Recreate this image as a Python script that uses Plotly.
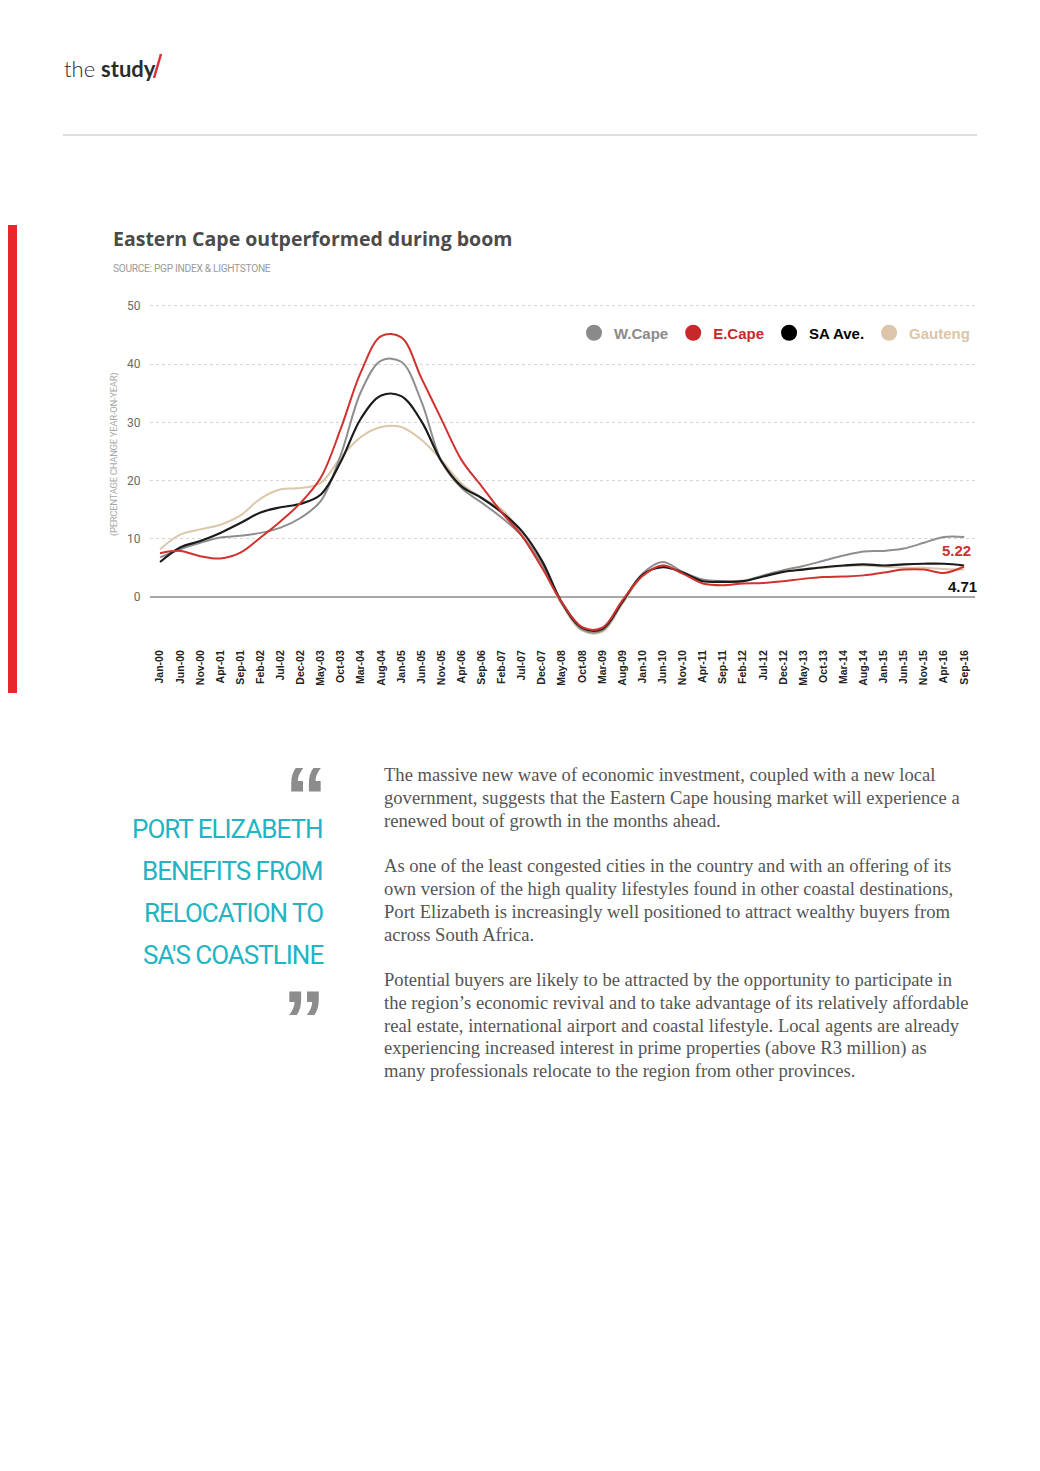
import plotly.graph_objects as go

# ---------------- data ----------------
months = ["Jan-00", "Jun-00", "Nov-00", "Apr-01", "Sep-01", "Feb-02", "Jul-02", "Dec-02",
          "May-03", "Oct-03", "Mar-04", "Aug-04", "Jan-05", "Jun-05", "Nov-05", "Apr-06",
          "Sep-06", "Feb-07", "Jul-07", "Dec-07", "May-08", "Oct-08", "Mar-09", "Aug-09",
          "Jan-10", "Jun-10", "Nov-10", "Apr-11", "Sep-11", "Feb-12", "Jul-12", "Dec-12",
          "May-13", "Oct-13", "Mar-14", "Aug-14", "Jan-15", "Jun-15", "Nov-15", "Apr-16",
          "Sep-16"]

wcape = [6.8, 8.2, 9.3, 10.2, 10.5, 11.0, 11.9, 13.6, 16.5, 24.5, 35.3, 40.6, 40.4, 33.6,
         23.3, 18.7, 16.2, 13.6, 10.5, 5.6, -1.2, -5.6, -5.8, -1.0, 4.0, 6.0, 4.3, 3.0,
         2.7, 2.7, 3.7, 4.6, 5.3, 6.2, 7.1, 7.8, 7.9, 8.3, 9.3, 10.3, 10.3]
ecape = [7.5, 7.9, 7.0, 6.6, 7.6, 10.2, 13.0, 16.2, 20.5, 29.0, 38.7, 44.8, 44.6, 37.6,
         30.5, 23.5, 19.0, 14.5, 10.5, 5.0, -1.0, -5.2, -5.3, -0.6, 3.6, 5.4, 4.0, 2.3,
         2.0, 2.3, 2.4, 2.7, 3.1, 3.4, 3.5, 3.7, 4.2, 4.7, 4.7, 4.1, 5.22]
saave = [6.0, 8.5, 9.6, 11.0, 12.7, 14.5, 15.4, 16.0, 17.6, 23.3, 30.7, 34.6, 34.5, 30.2,
         23.3, 19.0, 17.0, 14.5, 11.3, 6.2, -1.0, -5.3, -5.5, -0.8, 3.8, 5.1, 4.2, 2.7,
         2.6, 2.7, 3.5, 4.3, 4.7, 5.1, 5.4, 5.6, 5.4, 5.6, 5.7, 5.7, 5.4]
gauteng = [8.2, 10.7, 11.6, 12.4, 14.0, 16.9, 18.5, 18.7, 19.6, 24.0, 27.5, 29.2, 29.2, 27.0,
           23.5, 19.5, 17.0, 15.0, 11.0, 5.5, -1.4, -5.8, -6.0, -1.2, 3.6, 5.4, 4.2, 2.8,
           2.7, 2.8, 3.6, 4.4, 4.8, 5.0, 5.3, 5.4, 5.2, 5.0, 5.0, 4.8, 4.71]

series_names = ["W.Cape", "E.Cape", "SA Ave.", "Gauteng"]
end_labels = ["5.22", "4.71"]
y_ticks = [0, 10, 20, 30, 40, 50]

# ---------------- styling ----------------
PAGE_W, PAGE_H = 1040, 1471
OFF = 8  # default body margin of the html page
L, R, T, B = 150, 975, 303, 638

def px(x):
    return (x - L) / (R - L)

def py(y):
    return (B - y) / (B - T)

NARROW = "Roboto, sans-serif"
SERIF = "Liberation Serif, Times New Roman, serif"
ARIAL = "Liberation Sans, Arial, sans-serif"

line_colors = {"W.Cape": "#8e8e8e", "E.Cape": "#d0322f", "SA Ave.": "#1b1b1b", "Gauteng": "#dcc7ab"}
legend_colors = {"W.Cape": "#8a8a8a", "E.Cape": "#c8282b", "SA Ave.": "#000000", "Gauteng": "#dcc5a8"}

fig = go.Figure()

data_map = {"W.Cape": wcape, "E.Cape": ecape, "SA Ave.": saave, "Gauteng": gauteng}
for name in ["Gauteng", "W.Cape", "SA Ave.", "E.Cape"]:
    fig.add_trace(go.Scatter(
        x=months, y=data_map[name], mode="lines", showlegend=False,
        line=dict(color=line_colors[name], width=2.2 if name == "SA Ave." else 2, shape="spline"),
        hoverinfo="skip",
    ))

for name in series_names:
    c = legend_colors[name]
    fig.add_trace(go.Scatter(
        x=[None], y=[None], mode="markers",
        marker=dict(size=16, color=c, symbol="circle"),
        name=f"<span style='color:{c}'>{name}</span>",
    ))

ann = []
# header
ann.append(dict(x=px(62), y=py(69), xref="paper", yref="paper", xanchor="left", yanchor="middle",
                text="the <b>study</b>", showarrow=False,
                font=dict(family="Lato, sans-serif", size=22, color="#2b2b2b", weight=300)))
# chart title & source
ann.append(dict(x=px(111), y=py(238), xref="paper", yref="paper", xanchor="left", yanchor="middle",
                text="<b>Eastern Cape outperformed during boom</b>", showarrow=False,
                font=dict(family="Open Sans, sans-serif", size=19.5, color="#4b4b4b")))
ann.append(dict(x=px(111), y=py(268), xref="paper", yref="paper", xanchor="left", yanchor="middle",
                text="<span style='letter-spacing:-0.3px'>SOURCE: PGP INDEX &amp; LIGHTSTONE</span>",
                showarrow=False, font=dict(family=NARROW, size=10.2, color="#9a9a9a")))
# y-axis title
ann.append(dict(x=px(114), y=py(455), xref="paper", yref="paper", xanchor="center", yanchor="middle",
                text="<span style='letter-spacing:-0.3px'>(PERCENTAGE CHANGE YEAR-ON-YEAR)</span>",
                textangle=-90, showarrow=False,
                font=dict(family=NARROW, size=9.5, color="#a8a8a8")))
# end labels
ann.append(dict(x=px(973), y=py(550), xref="paper", yref="paper", xanchor="right", yanchor="middle",
                text=f"<b>{end_labels[0]}</b>", showarrow=False,
                font=dict(family=ARIAL, size=15, color="#d0312d")))
ann.append(dict(x=px(979), y=py(586), xref="paper", yref="paper", xanchor="right", yanchor="middle",
                text=f"<b>{end_labels[1]}</b>", showarrow=False,
                font=dict(family=ARIAL, size=15, color="#111111")))

# pull quote
quote_lines = ["PORT ELIZABETH", "BENEFITS FROM", "RELOCATION TO", "SA'S COASTLINE"]
for i, t in enumerate(quote_lines):
    ann.append(dict(x=px(325), y=py(829 + 42 * i), xref="paper", yref="paper",
                    xanchor="right", yanchor="middle",
                    text=f"<span style='letter-spacing:-1px'>{t}</span>", showarrow=False,
                    font=dict(family=NARROW, size=26, color="#22b4c2")))
# opening mark: a closing quote turned half a turn (same glyph shape as the opening mark)
ann.append(dict(x=px(329), y=py(812), xref="paper", yref="paper", xanchor="right", yanchor="bottom",
                text="<b>\u201d</b>", textangle=180, showarrow=False,
                font=dict(family=ARIAL, size=84, color="#8c8c8c")))
ann.append(dict(x=px(327), y=py(971), xref="paper", yref="paper", xanchor="right", yanchor="top",
                text="<b>\u201d</b>", showarrow=False,
                font=dict(family=ARIAL, size=84, color="#8c8c8c")))

# body text
body = [
    (774, "The massive new wave of economic investment, coupled with a new local"),
    (797, "government, suggests that the Eastern Cape housing market will experience a"),
    (820, "renewed bout of growth in the months ahead."),
    (865, "As one of the least congested cities in the country and with an offering of its"),
    (888, "own version of the high quality lifestyles found in other coastal destinations,"),
    (911, "Port Elizabeth is increasingly well positioned to attract wealthy buyers from"),
    (934, "across South Africa."),
    (979, "Potential buyers are likely to be attracted by the opportunity to participate in"),
    (1002, "the region\u2019s economic revival and to take advantage of its relatively affordable"),
    (1025, "real estate, international airport and coastal lifestyle. Local agents are already"),
    (1048, "experiencing increased interest in prime properties (above R3 million) as"),
    (1070, "many professionals relocate to the region from other provinces."),
]
for yy, t in body:
    ann.append(dict(x=px(382), y=py(yy), xref="paper", yref="paper", xanchor="left", yanchor="middle",
                    text=t, showarrow=False,
                    font=dict(family=SERIF, size=18.6, color="#555555")))

shapes = [
    dict(type="line", xref="paper", yref="paper", x0=px(63), x1=px(977), y0=py(135), y1=py(135),
         line=dict(color="#d4d4d4", width=1.5)),
    dict(type="rect", xref="paper", yref="paper", x0=px(-10), x1=px(17), y0=py(225), y1=py(693),
         line=dict(width=0), fillcolor="#e8272c"),
    dict(type="line", xref="paper", yref="paper", x0=px(154), x1=px(161), y0=py(78), y1=py(54),
         line=dict(color="#e0303a", width=2.5)),
]

fig.update_layout(
    width=PAGE_W - OFF, height=PAGE_H - OFF,
    margin=dict(l=L - OFF, r=PAGE_W - R, t=T - OFF, b=PAGE_H - B, pad=0),
    paper_bgcolor="white", plot_bgcolor="white",
    annotations=ann, shapes=shapes,
    showlegend=True,
    legend=dict(orientation="h", x=px(975), xanchor="right", y=py(333), yanchor="middle",
                bgcolor="rgba(0,0,0,0)", itemsizing="trace",
                font=dict(family=ARIAL, size=15, weight="bold")),
    xaxis=dict(type="category", range=[-0.5, 40.54], tickangle=-90, showgrid=False,
               showline=False, zeroline=False, ticks="outside", ticklen=7,
               tickcolor="rgba(0,0,0,0)",
               tickfont=dict(family=ARIAL, size=10.5, color="#222222", weight="bold")),
    yaxis=dict(range=[-7.06, 50.5], tickvals=y_ticks, showgrid=True, gridcolor="#d6d6d6",
               griddash="dot", gridwidth=1, zeroline=True, zerolinecolor="#a8a8a8",
               zerolinewidth=2, showline=False, ticks="outside", ticklen=6,
               tickcolor="rgba(0,0,0,0)",
               tickfont=dict(family=NARROW, size=12, color="#6a6a6a")),
)

fig.write_html("out.html")
